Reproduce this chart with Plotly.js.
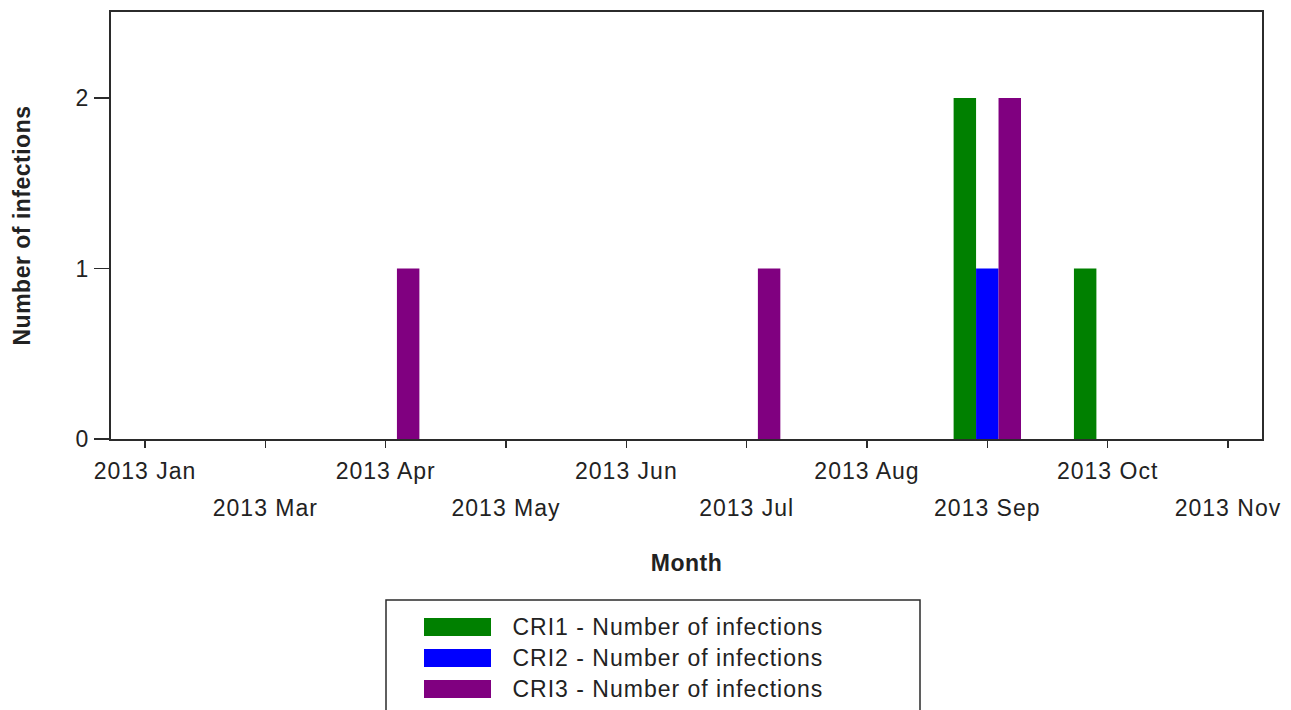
<!DOCTYPE html>
<html>
<head>
<meta charset="utf-8">
<script src="https://cdn.plot.ly/plotly-3.0.1.min.js"></script>
<style>
html,body{margin:0;padding:0;background:#fff;}
#chart{width:1291px;height:710px;}
#chart text{letter-spacing:1px;}
#chart .xtitle, #chart .ytitle{letter-spacing:0.5px;}
</style>
</head>
<body>
<div id="chart"></div>
<script>
// ---- data ----
const months = ['2013 Jan','2013 Mar','2013 Apr','2013 May','2013 Jun','2013 Jul','2013 Aug','2013 Sep','2013 Oct','2013 Nov'];
const cri1 = [0,0,0,0,0,0,0,2,1,0];
const cri2 = [0,0,0,0,0,0,0,1,0,0];
const cri3 = [0,0,1,0,0,1,0,2,0,0];
const seriesNames = ['CRI1 - Number of infections','CRI2 - Number of infections','CRI3 - Number of infections'];
const seriesColors = ['#008000','#0000FF','#800080'];
const yTicks = [0,1,2];

// ---- build ----
const FONT = 'Liberation Sans, Arial, sans-serif';
const FS = 23;
const seriesValues = [cri1, cri2, cri3];
const traces = seriesValues.map((vals, i) => ({
  type: 'bar',
  x: months,
  y: vals,
  name: seriesNames[i],
  marker: {color: seriesColors[i], line: {width: 0}},
  showlegend: false,
  hoverinfo: 'x+y+name'
}));
// helper trace so the second (label) axis exists
traces.push({type: 'scatter', x: [], y: [], xaxis: 'x2', yaxis: 'y', showlegend: false, hoverinfo: 'skip'});

const botIdx = months.map((m, i) => i).filter(i => i % 2 === 1);
const xr = [-0.283, months.length - 1 + 0.283];

// custom legend (shapes + text)
const toPaperY = px => (439 - px) / 427;
const toPaperX = px => (px - 111) / 1151;
const shapes = [{
  type: 'rect', xref: 'paper', yref: 'paper',
  x0: toPaperX(386), x1: toPaperX(920), y0: toPaperY(740), y1: toPaperY(600),
  line: {color: '#2b2b2b', width: 1.5}, fillcolor: 'rgba(0,0,0,0)'
}];
const annotations = [];
const rowPx = [627, 658, 689];
seriesNames.forEach((n, i) => {
  shapes.push({
    type: 'rect', xref: 'paper', yref: 'paper',
    x0: toPaperX(424), x1: toPaperX(491),
    y0: toPaperY(rowPx[i] + 9), y1: toPaperY(rowPx[i] - 9),
    line: {width: 0}, fillcolor: seriesColors[i]
  });
  annotations.push({
    xref: 'paper', yref: 'paper', x: toPaperX(524), y: toPaperY(rowPx[i]),
    xanchor: 'left', yanchor: 'middle', showarrow: false,
    text: n, font: {family: FONT, size: FS, color: '#222'}
  });
});

const layout = {
  width: 1291, height: 710,
  margin: {l: 111, r: 29, t: 12, b: 271, pad: 0},
  paper_bgcolor: '#fff', plot_bgcolor: '#fff',
  barmode: 'group', bargap: 0.44, bargroupgap: 0,
  showlegend: false,
  font: {family: FONT, size: FS, color: '#222'},
  xaxis: {
    type: 'category', categoryorder: 'array', categoryarray: months,
    range: xr, autorange: false,
    tickmode: 'array', tickvals: months,
    ticktext: months.map((m, i) => i % 2 === 0 ? m : ''),
    ticks: 'outside', ticklen: 7, tickwidth: 1.5, tickcolor: '#2b2b2b',
    ticklabelstandoff: 3,
    showline: true, linecolor: '#2b2b2b', linewidth: 2, mirror: true,
    showgrid: false, zeroline: false,
    tickfont: {family: FONT, size: FS, color: '#222'},
    title: {text: 'Month', font: {family: FONT, size: FS, color: '#222', weight: 'bold'}, standoff: 72}
  },
  xaxis2: {
    overlaying: 'x', anchor: 'y', side: 'bottom', type: 'linear',
    range: xr, autorange: false,
    tickmode: 'array', tickvals: botIdx,
    ticktext: botIdx.map(i => months[i]),
    ticks: '', showline: false, showgrid: false, zeroline: false,
    ticklabelstandoff: 53,
    tickfont: {family: FONT, size: FS, color: '#222'}
  },
  yaxis: {
    range: [0, 2.504], autorange: false,
    tickmode: 'array', tickvals: yTicks, ticktext: yTicks.map(String),
    ticks: 'outside', ticklen: 15, tickwidth: 1.5, tickcolor: '#2b2b2b',
    showline: true, linecolor: '#2b2b2b', linewidth: 2, mirror: true,
    showgrid: false, zeroline: false,
    tickfont: {family: FONT, size: FS, color: '#222'},
    title: {text: 'Number of infections', font: {family: FONT, size: FS, color: '#222', weight: 'bold'}, standoff: 40}
  },
  shapes: shapes,
  annotations: annotations
};

Plotly.newPlot('chart', traces, layout, {displayModeBar: false, staticPlot: true});
</script>
</body>
</html>
